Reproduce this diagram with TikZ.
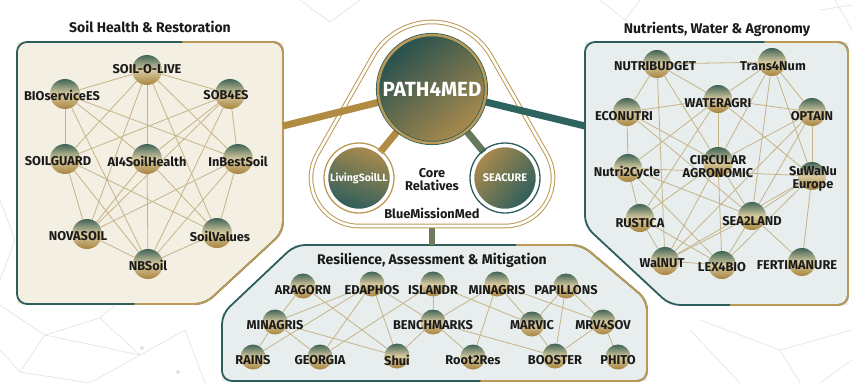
\documentclass[tikz,border=0pt]{standalone}
\usepackage{fontspec}
\setmainfont{Fira Sans}
\definecolor{tealA}{HTML}{2D5E5C}
\definecolor{goldA}{HTML}{BC9A55}
\definecolor{edgeC}{HTML}{C6B488}
\definecolor{beige}{HTML}{F4EFE3}
\definecolor{mist}{HTML}{E8EEEE}
\definecolor{ink}{HTML}{1B1B1B}
\definecolor{sphT}{HTML}{3F6457}
\definecolor{sphM}{HTML}{D8CA9E}
\definecolor{sphB}{HTML}{A8843F}
\definecolor{netC}{HTML}{E2E2E2}
\definecolor{barG}{HTML}{B08B42}
\definecolor{barT}{HTML}{2F6360}
\pgfdeclarelayer{panel}
\pgfdeclarelayer{edges}
\pgfsetlayers{panel,edges,main}
\newcommand\mynode[7]{%
  \node[sph,minimum size=#7] (#1) at (#2,#3) {};
  \node[lbl] (#1-t) at (#4,#5) {#6};}
\begin{document}
\begin{tikzpicture}[x=1pt,y=-1pt,
  sph/.style={circle,inner sep=0pt,top color=sphT,bottom color=sphB,middle color=sphM},
  lbl/.style={font=\bfseries\fontsize{12.8}{13}\selectfont,text=ink,inner sep=0pt,align=center},
  ttl/.style={font=\bfseries\fontsize{14}{15}\selectfont,text=ink,inner sep=0pt},
  lnk/.style={draw=edgeC,line width=0.8pt},
  net/.style={draw=netC,line width=0.6pt},
  pborder/.style={line width=1.8pt,rounded corners=10pt},
  bar/.style={line width=7pt}]
\useasboundingbox (0,0) rectangle (852,383);

% ---------- background decoration and panels ----------
\begin{pgfonlayer}{panel}
\fill[white] (0,0) rectangle (852,383);
\draw[net] (0,305) -- (45,335) -- (100,318) -- (140,355) -- (90,383);
\draw[net] (45,335) -- (20,372) -- (90,383);
\draw[net] (100,318) -- (130,292) (140,355) -- (185,330) -- (205,383);
\draw[net] (45,335) -- (140,355) (0,350) -- (20,372);
\draw[net] (0,200) -- (15,240) -- (0,280);
\fill[netC] (142,348) circle[radius=2] (178,372) circle[radius=2];
\draw[net] (600,0) -- (640,32) (640,0) -- (625,20);
\draw[net] (835,0) -- (852,30) (820,10) -- (852,5);
\draw[net] (300,0) -- (330,22) -- (360,0);
\draw[net] (690,330) -- (740,383) (700,320) -- (780,350) -- (852,330) (780,350) -- (800,383);
\draw[net] (852,360) -- (820,383);

% left panel
\path[fill=beige] (17,42) -- (283,42) -- (283,232) -- (205,304) -- (17,304) -- cycle;
\draw[pborder,tealA] (17,42) -- (283,42) -- (283,232) -- (205,304) -- (17,304) -- cycle;
\begin{scope}
\clip (190,0) -- (300,0) -- (300,383) -- (120,383) -- cycle;
\draw[pborder,goldA] (17,42) -- (283,42) -- (283,232) -- (205,304) -- (17,304) -- cycle;
\end{scope}
% right panel
\path[fill=mist] (585,42) -- (848,42) -- (848,305) -- (670,305) -- (585,226) -- cycle;
\draw[pborder,tealA] (585,42) -- (848,42) -- (848,305) -- (670,305) -- (585,226) -- cycle;
\begin{scope}
\clip (770,0) -- (852,0) -- (852,383) -- (720,383) -- cycle;
\draw[pborder,goldA] (585,42) -- (848,42) -- (848,305) -- (670,305) -- (585,226) -- cycle;
\end{scope}
% bottom panel
\path[fill=mist] (295,245) -- (582,245) -- (647,300) -- (647,381) -- (222,381) -- (222,314) -- cycle;
\draw[pborder,tealA] (295,245) -- (582,245) -- (647,300) -- (647,381) -- (222,381) -- (222,314) -- cycle;
\begin{scope}
\clip (520,230) -- (852,230) -- (852,383) -- (480,383) -- cycle;
\draw[pborder,goldA] (295,245) -- (582,245) -- (647,300) -- (647,381) -- (222,381) -- (222,314) -- cycle;
\end{scope}
% central frame
\path[fill=white,draw=goldA,double=white,double distance=2.6pt,line width=1pt]
  (359,226) arc[start angle=90,end angle=209.6,radius=48]
  -- (372.85,56.4) arc[start angle=209.6,end angle=330.4,radius=68]
  -- (546.75,154.28) arc[start angle=330.4,end angle=450,radius=48] -- cycle;
\end{pgfonlayer}

% ---------- titles ----------
\node[ttl] (tl) at (150,27) {Soil Health \& Restoration};
\node[ttl] (tr) at (717,29) {Nutrients, Water \& Agronomy};
\node[ttl] (tb) at (432,260) {Resilience, Assessment \& Mitigation};

% ---------- centre ----------
\node[circle,minimum size=108,inner sep=0pt,top color=tealA!85!black,bottom color=goldA!90!black,shading angle=40,
  draw=tealA,double=goldA,double distance=2.5pt,line width=0.8pt,
  text=white,font=\bfseries\fontsize{20.5}{21}\selectfont] (P) at (432,89) {PATH4MED};
\node[circle,minimum size=64,inner sep=0pt,top color=goldA!90!black,bottom color=tealA,shading angle=-20,
  draw=white,line width=2.5pt,text=white,font=\bfseries\fontsize{10.5}{12}\selectfont] (LS) at (359,178) {LivingSoilLL};
\node[circle,minimum size=64,inner sep=0pt,top color=goldA!90!black,bottom color=tealA,shading angle=50,
  draw=white,line width=2.5pt,text=white,font=\bfseries\fontsize{11}{12}\selectfont] (SC) at (505,178) {SEACURE};
\draw[goldA,line width=1.3pt] (LS) circle[radius=35];
\draw[tealA,line width=1.3pt] (SC) circle[radius=35];
\node[lbl] (core) at (432,180) {Core\\Relatives};
\node[lbl] (bmm) at (432,213) {BlueMissionMed};
\coordinate (lp) at (283,126);
\coordinate (rp) at (585,126);
\coordinate (ct) at (432,228);
\coordinate (cb) at (432,245);

% ---------- left panel nodes ----------
\mynode{sol}{147}{70}{147}{69}{SOIL-O-LIVE}{30}
\mynode{bio}{65}{94}{62}{95}{BIOserviceES}{30}
\mynode{sob}{230}{94}{226}{95}{SOB4ES}{30}
\mynode{sg}{65}{159}{58}{161}{SOILGUARD}{30}
\mynode{ai}{147}{159}{147}{161}{AI4SoilHealth}{30}
\mynode{ibs}{238}{159}{238}{161}{InBestSoil}{30}
\mynode{nova}{87}{234}{78}{236}{NOVASOIL}{30}
\mynode{sv}{217}{233}{220}{236}{SoilValues}{30}
\mynode{nbs}{148}{264}{148}{265}{NBSoil}{30}

% ---------- right panel nodes ----------
\mynode{nb}{657}{64}{655}{66}{NUTRIBUDGET}{28}
\mynode{t4n}{772}{62}{773}{66}{Trans4Num}{28}
\mynode{wa}{718}{99}{718}{103}{WATERAGRI}{28}
\mynode{eco}{627}{112}{624}{116}{ECONUTRI}{28}
\mynode{opt}{812}{112}{812}{116}{OPTAIN}{28}
\mynode{circ}{718}{162}{718}{167}{CIRCULAR\\AGRONOMIC}{30}
\mynode{n2c}{628}{168}{627}{173}{Nutri2Cycle}{28}
\mynode{suw}{812}{176}{813}{179}{SuWaNu\\Europe}{28}
\mynode{rus}{640}{218}{640}{223}{RUSTICA}{28}
\mynode{sea}{752}{216}{752}{221}{SEA2LAND}{28}
\mynode{wal}{665}{261}{662}{263}{WalNUT}{28}
\mynode{lex}{722}{265}{722}{267}{LEX4BIO}{28}
\mynode{fert}{802}{262}{797}{265}{FERTIMANURE}{28}

% ---------- bottom panel nodes ----------
\mynode{ara}{303}{286}{303}{290}{ARAGORN}{25}
\mynode{eda}{372}{284}{372}{290}{EDAPHOS}{25}
\mynode{isl}{433}{284}{433}{290}{ISLANDR}{25}
\mynode{minT}{497}{284}{497}{290}{MINAGRIS}{25}
\mynode{pap}{566}{286}{566}{290}{PAPILLONS}{25}
\mynode{minL}{275}{322}{275}{325}{MINAGRIS}{25}
\mynode{ben}{433}{322}{433}{325}{BENCHMARKS}{25}
\mynode{marv}{532}{324}{532}{325}{MARVIC}{25}
\mynode{mrv}{603}{322}{603}{325}{MRV4SOV}{25}
\mynode{rains}{253}{357}{253}{360}{RAINS}{25}
\mynode{geo}{320}{357}{320}{360}{GEORGIA}{25}
\mynode{shui}{397}{356}{397}{360}{Shui}{25}
\mynode{root}{473}{357}{473}{360}{Root2Res}{25}
\mynode{boo}{555}{356}{555}{360}{BOOSTER}{25}
\mynode{phi}{618}{357}{618}{360}{PHITO}{25}

% ---------- connectors ----------
\begin{pgfonlayer}{edges}
\draw[bar,barG] (lp) -- (P);
\draw[bar,barT] (P) -- (rp);
\draw[bar,barG] (P) -- (LS);
\draw[bar,barT!60!goldA] (P) -- (SC);
\draw[line width=6pt,barT!55!goldA] (ct) -- (cb);
\foreach \a/\b in {sol/bio,sol/sob,sol/sg,sol/ai,sol/nova,sol/ibs,sol/sv,
  bio/sg,bio/ai,bio/ibs,bio/nbs,sob/ibs,sob/sg,sob/ai,sob/nova,sob/nbs,
  sg/nova,sg/sv,sg/nbs,ai/nbs,ai/nova,ai/sv,ibs/nova,ibs/sv,ibs/nbs,nova/nbs,sv/nbs}
  \draw[lnk] (\a) -- (\b);
\foreach \a/\b in {nb/t4n,nb/eco,nb/wa,nb/circ,nb/wal,t4n/wa,t4n/opt,t4n/suw,t4n/sea,t4n/circ,
  wa/eco,wa/opt,wa/circ,wa/n2c,wa/suw,wa/rus,eco/n2c,eco/circ,eco/sea,
  opt/suw,opt/circ,opt/wal,opt/sea,n2c/rus,n2c/suw,n2c/sea,n2c/lex,
  suw/sea,suw/fert,suw/wal,suw/lex,circ/lex,circ/rus,circ/sea,circ/wal,
  rus/wal,rus/lex,sea/wal,sea/lex,sea/fert,wal/lex}
  \draw[lnk] (\a) -- (\b);
\foreach \a/\b in {ara/minL,ara/shui,eda/minL,eda/rains,eda/geo,eda/shui,eda/ben,
  isl/ben,isl/geo,isl/marv,minT/ben,minT/root,minT/marv,minT/mrv,
  pap/marv,pap/boo,pap/mrv,minL/rains,minL/geo,minL/shui,
  ben/shui,ben/root,ben/boo,marv/boo,mrv/boo,mrv/phi}
  \draw[lnk] (\a) -- (\b);
\end{pgfonlayer}
\end{tikzpicture}
\end{document}
